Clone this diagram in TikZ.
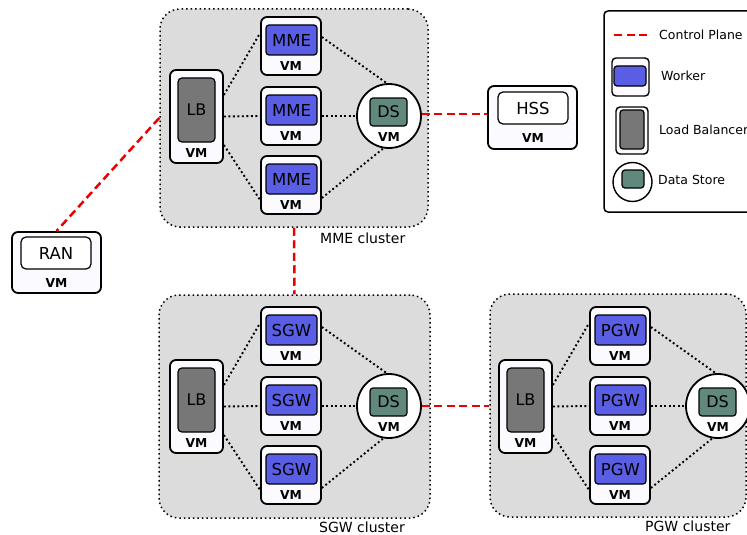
\documentclass[tikz,border=0pt]{standalone}
\usepackage{fontspec}
\setmainfont{DejaVu Sans}
\usetikzlibrary{calc}

\definecolor{workerblue}{RGB}{90,94,228}
\definecolor{lbgray}{RGB}{119,119,119}
\definecolor{dsgreen}{RGB}{96,136,124}
\definecolor{clustergray}{RGB}{220,220,220}
\definecolor{vmfill}{RGB}{250,250,255}
\definecolor{ctrlred}{RGB}{235,0,0}

\tikzset{
  vmbox/.style={draw, line width=1.8pt, rounded corners=6pt, fill=vmfill, inner sep=0pt},
  workercore/.style={draw, line width=1.2pt, rounded corners=3pt, fill=workerblue, inner sep=0pt,
    font=\fontsize{16.5}{18}\selectfont},
  lbcore/.style={draw, line width=1.2pt, rounded corners=4pt, fill=lbgray, inner sep=0pt,
    font=\fontsize{16}{18}\selectfont},
  dscore/.style={draw, line width=1.2pt, rounded corners=3pt, fill=dsgreen, inner sep=0pt,
    font=\fontsize{16}{18}\selectfont},
  plaincore/.style={draw, line width=1.2pt, rounded corners=5pt, fill=white, inner sep=0pt,
    font=\fontsize{16.5}{18}\selectfont},
  dsring/.style={circle, draw, line width=1.8pt, fill=white, minimum size=64pt, inner sep=0pt},
  vmtag/.style={font=\bfseries\fontsize{12.3}{13}\selectfont, inner sep=0pt},
  clusterbox/.style={draw, line width=1.5pt, dash pattern=on 1.5pt off 3pt,
    rounded corners=20pt, fill=clustergray, inner sep=0pt},
  clusterlabel/.style={font=\fontsize{14}{16}\selectfont, inner sep=0pt, anchor=west},
  legendtext/.style={font=\fontsize{12.5}{14}\selectfont, inner sep=0pt, anchor=west},
  dotlink/.style={line width=1.9pt, dash pattern=on 1.9pt off 2.6pt},
  ctrl/.style={ctrlred, line width=2.5pt, dash pattern=on 8pt off 4.5pt},
}

% One cluster: load balancer VM, three worker VMs and a data-store VM
% #1 name prefix, #2/#3 shift, #4 worker label
\newcommand\clusterparts[4]{%
  \begin{scope}[shift={(#2,#3)}]
    \node[vmbox, minimum width=53pt, minimum height=93pt] (#1lb) at (196.5,116.5) {};
    \node[lbcore, minimum width=37pt, minimum height=64pt] (#1lbcore) at (196.5,110) {LB};
    \node[vmtag] (#1lbtag) at (196.5,153) {VM};
    \foreach \i/\cy in {1/46,2/116,3/185}{%
      \node[vmbox, minimum width=60pt, minimum height=58pt] (#1w\i) at (291,\cy) {};
      \node[workercore, minimum width=51pt, minimum height=30pt] (#1core\i) at (291.5,{\cy-6}) {#4};
      \node[vmtag] (#1tag\i) at (291,{\cy+20}) {VM};
    }
    \node[dsring] (#1ds) at (389,116) {};
    \node[dscore, minimum width=37pt, minimum height=28pt] (#1dscore) at (388.5,112) {DS};
    \node[vmtag] (#1dstag) at (389,137) {VM};
    \draw[dotlink] ([yshift=21.5pt]#1lb.east) -- ([yshift=13pt]#1w1.west);
    \draw[dotlink] (#1lb.east) -- (#1w2.west);
    \draw[dotlink] ([yshift=-28.5pt]#1lb.east) -- ([yshift=-15pt]#1w3.west);
    \draw[dotlink] ([yshift=9pt]#1w1.east) -- (#1ds.94);
    \draw[dotlink] (#1w2.east) -- (#1ds.west);
    \draw[dotlink] ([yshift=-13pt]#1w3.east) -- (#1ds.260);
  \end{scope}}

\begin{document}
\begin{tikzpicture}[x=1pt,y=-1pt]
  \clip (0,0) rectangle (747,535);
  \fill[white] (0,0) rectangle (747,535);

  % cluster backgrounds
  \node[clusterbox, minimum width=268pt, minimum height=218pt] (mmecl) at (294,118) {};
  \node[clusterbox, minimum width=271pt, minimum height=223pt] (sgwcl) at (294.5,406.5) {};
  \node[clusterbox, minimum width=256pt, minimum height=223pt] (pgwcl) at (618,405.5) {};
  \node[clusterlabel] (mmelabel) at (320,238) {MME cluster};
  \node[clusterlabel] (sgwlabel) at (319,527) {SGW cluster};
  \node[clusterlabel] (pgwlabel) at (645,526) {PGW cluster};

  % clusters
  \clusterparts{mme}{0}{0}{MME}
  \clusterparts{sgw}{0}{290}{SGW}
  \clusterparts{pgw}{329}{290}{PGW}

  % HSS
  \node[vmbox, minimum width=89pt, minimum height=63pt] (hss) at (532.5,117.5) {};
  \node[plaincore, minimum width=70pt, minimum height=32pt] (hsscore) at (533,108) {HSS};
  \node[vmtag] (hsstag) at (533,138) {VM};

  % RAN
  \node[vmbox, minimum width=89pt, minimum height=61pt] (ran) at (56.5,262.5) {};
  \node[plaincore, minimum width=70pt, minimum height=32pt] (rancore) at (56,253) {RAN};
  \node[vmtag] (rantag) at (56.5,283) {VM};

  % control plane links
  \draw[ctrl] (mmecl.west) -- (ran.north);
  \draw[ctrl] (mmecl.south) -- (sgwcl.north);
  \draw[ctrl] ([yshift=2pt]mmeds.east) -- ([yshift=2pt]mmeds.east -| hss.west);
  \draw[ctrl] (sgwds.east) -- (sgwds.east -| pgwcl.west);

  % legend
  \node[draw, line width=1.5pt, rounded corners=4pt, fill=white,
        minimum width=156pt, minimum height=201pt] (legend) at (682,111.5) {};
  \coordinate (lgA) at (614,35);
  \coordinate (lgB) at (647,35);
  \draw[ctrl] (lgA) -- (lgB);
  \node[legendtext] (lgctrl) at (659,35) {Control Plane};
  \node[vmbox, line width=1.4pt, rounded corners=4pt, minimum width=37pt, minimum height=38pt] (lgworker) at (630.5,77) {};
  \node[workercore, minimum width=32pt, minimum height=20pt] (lgworkercore) at (630,76) {};
  \node[legendtext] (lgworkertxt) at (661,76) {Worker};
  \node[vmbox, line width=1.4pt, rounded corners=4pt, minimum width=32pt, minimum height=47pt] (lglb) at (632,130.5) {};
  \node[lbcore, rounded corners=3pt, minimum width=24pt, minimum height=39pt] (lglbcore) at (632,129.5) {};
  \node[legendtext] (lglbtxt) at (659,130) {Load Balancer};
  \node[circle, draw, line width=1.4pt, fill=white, minimum size=39pt, inner sep=0pt] (lgds) at (632.5,182) {};
  \node[dscore, minimum width=22pt, minimum height=18pt] (lgdscore) at (633,179) {};
  \node[legendtext] (lgdstxt) at (658,180) {Data Store};
\end{tikzpicture}
\end{document}
